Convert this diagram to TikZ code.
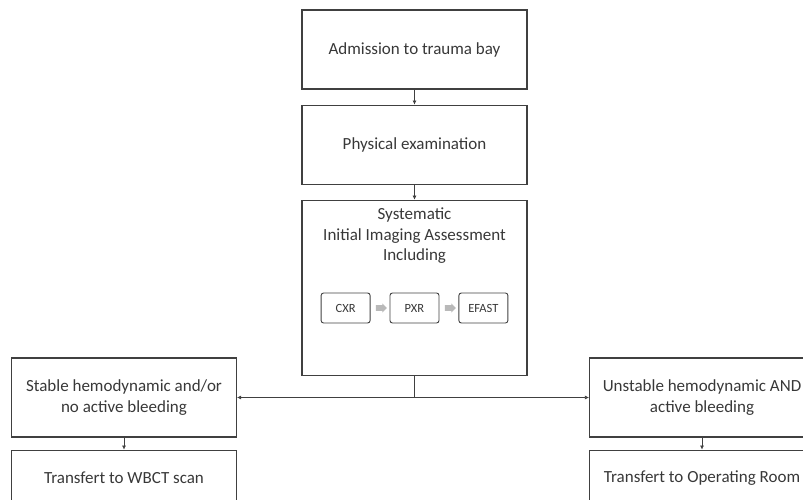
\documentclass[tikz,border=0pt]{standalone}
\usepackage{fontspec}
\setmainfont{Carlito}
\usetikzlibrary{positioning,calc,shapes.arrows,arrows.meta}
\definecolor{linegray}{HTML}{404040}
\definecolor{textgray}{HTML}{383838}
\tikzset{
  box/.style={draw=linegray, line width=1.1pt, minimum width=225pt, minimum height=79pt, align=center, text=textgray, font=\fontsize{17}{21}\selectfont},
  smallbox/.style={draw=linegray, line width=0.9pt, rounded corners=2.5pt, minimum width=49pt, minimum height=30pt, text=textgray, font=\fontsize{12.5}{14}\selectfont},
  grayarrow/.style={single arrow, fill=gray!55, draw=none, minimum height=11pt, minimum width=9pt, single arrow head extend=1.8pt, inner sep=2.6pt},
  flow/.style={draw=linegray, line width=0.6pt, -{Latex[length=4pt,width=4pt]}}
}
\begin{document}
\begin{tikzpicture}[x=1pt, y=-1pt]
\useasboundingbox (0,0) rectangle (803,500);
\clip (0,0) rectangle (803,500);

\node[box] (admit) at (414.5,49.5) {Admission to trauma bay};
\node[box, below=15pt of admit] (exam) {Physical examination};
\node[box, below=15pt of exam, minimum height=175pt] (assess) {};
\node[below=5pt of assess.north, align=center, text=textgray, font=\fontsize{17}{20.5}\selectfont] (assesstxt) {Systematic\\Initial Imaging Assessment\\Including};

\node[smallbox] (pxr) at (414.5,308) {PXR};
\node[smallbox, left=19pt of pxr] (cxr) {CXR};
\node[smallbox, right=19pt of pxr] (efast) {EFAST};
\node[grayarrow] (a1) at ($(cxr.east)!0.5!(pxr.west)$) {};
\node[grayarrow] (a2) at ($(pxr.east)!0.5!(efast.west)$) {};

\node[box] (stable) at (124,397.5) {Stable hemodynamic and/or\\no active bleeding};
\node[box] (unstable) at (702,397.5) {Unstable hemodynamic AND\\active bleeding};
\node[box, below=12pt of stable, minimum height=56pt] (wbct) {Transfert to WBCT scan};
\node[box, below=12pt of unstable, minimum height=56pt] (or) {Transfert to Operating Room};

\coordinate (split) at (assess.south |- stable.east);

\draw[flow] (admit) -- (exam);
\draw[flow] (exam) -- (assess);
\draw[draw=linegray, line width=0.6pt] (assess.south) -- (split);
\draw[flow] (split) -- (stable.east);
\draw[flow] (split) -- (unstable.west);
\draw[flow] (stable) -- (wbct);
\draw[flow] (unstable) -- (or);
\end{tikzpicture}
\end{document}
